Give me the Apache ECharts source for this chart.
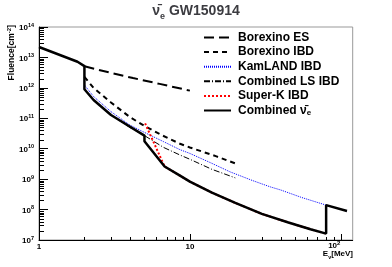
<!DOCTYPE html>
<html><head><meta charset="utf-8">
<script src="https://cdn.jsdelivr.net/npm/echarts@6/dist/echarts.min.js"></script>
<style>html,body{margin:0;padding:0;background:#fff}#c{width:392px;height:267px}</style>
</head><body><div id="c"></div>
<script>
const FONT = 'Liberation Sans';
const NU_BAR = 'ν\u0304';

// ---- data (E in MeV, fluence in cm^-2) ----
const borexinoES_E = [2, 3, 4.2, 6.3, 10];
const borexinoES_F = [5.1e12, 3.1e12, 2.1e12, 1.35e12, 8.1e11];

const borexinoIBD_E = [2, 2.3, 3, 4, 5, 6.5, 8.6, 10, 15, 20];
const borexinoIBD_F = [2.3e12, 1.0e12, 3.3e11, 1.1e11, 5.6e10, 2.8e10, 1.45e10, 1.1e10, 5.6e9, 3.3e9];

const kamland_E = [2, 2.3, 3, 4, 4.9, 6.7, 8.6, 10, 14, 18.4, 26, 34, 40, 55, 80, 110];
const kamland_F = [1.24e12, 5.2e11, 1.65e11, 6.0e10, 3.6e10, 1.7e10, 9.3e9, 7.0e9, 3.3e9, 1.75e9, 9.0e8, 5.6e8, 4.4e8, 2.5e8, 1.4e8, 9e7];

const combinedLS_E = [2, 2.3, 3, 4, 5, 6.7, 8.6, 10, 14, 20];
const combinedLS_F = [9e11, 4e11, 1.28e11, 5.0e10, 2.7e10, 1.1e10, 6.2e9, 4.5e9, 2.1e9, 1.1e9];

const superK_E = [5.05, 6.8, 8.6, 10, 14, 20, 30, 45, 63, 80];
const superK_F = [6.8e10, 2.6e9, 1.3e9, 8.3e8, 3.6e8, 1.65e8, 7.2e7, 3.75e7, 2.25e7, 1.62e7];

const combined_E = [1, 1.8, 2, 2, 2.3, 3, 5, 5, 6.8, 8.6, 10, 14, 20, 30, 45, 63, 80, 80, 110];
const combined_F = [2.2e13, 7.2e12, 5.2e12, 9e11, 4e11, 1.28e11, 2.7e10, 1.75e10, 2.6e9, 1.3e9, 8.3e8, 3.6e8, 1.65e8, 7.2e7, 3.75e7, 2.25e7, 1.62e7, 1.4e8, 9e7];

const seriesNames = ['Borexino ES', 'Borexino IBD', 'KamLAND IBD', 'Combined LS IBD', 'Super-K IBD', 'Combined ' + NU_BAR + 'e'];

// axis structure
const X_MIN = 1, X_MAX = 120;
const Y_MIN = 1e7, Y_MAX = 1e14;
const xDecades = [1, 10, 100];
const yDecades = [1e7, 1e8, 1e9, 1e10, 1e11, 1e12, 1e13];
const minorMantissas = [2, 3, 4, 5, 6, 7, 8, 9];

const zip = (a, b) => a.map((v, i) => [v, b[i]]);

const minorData = [];
xDecades.forEach(d => minorMantissas.forEach(m => { const v = m * d; if (v < X_MAX) minorData.push([v, Y_MIN, 0]); }));
yDecades.forEach(d => minorMantissas.forEach(m => minorData.push([X_MIN, m * d, 1])));

function lineSeries(name, E, F, color, width, type) {
  return {
    name, type: 'line', data: zip(E, F), symbol: 'none', showSymbol: false,
    lineStyle: { color, width, type }, itemStyle: { color },
    animation: false, silent: true, clip: true
  };
}

const chart = echarts.init(document.getElementById('c'), null, { renderer: 'canvas' });
chart.setOption({
  animation: false,
  textStyle: { fontFamily: FONT },
  title: {
    text: '{n|' + NU_BAR + '}{e|e}{t| GW150914}',
    left: 'center', top: 2, padding: 0,
    textStyle: {
      rich: {
        n: { fontFamily: FONT, fontWeight: 'bold', fontSize: 14, lineHeight: 16, verticalAlign: 'bottom' },
        e: { fontFamily: FONT, fontWeight: 'bold', fontSize: 9, lineHeight: 16, verticalAlign: 'bottom', padding: [0, 0, -3, 0] },
        t: { fontFamily: FONT, fontWeight: 'bold', fontSize: 14, lineHeight: 16, verticalAlign: 'bottom' }
      }
    }
  },
  legend: {
    data: seriesNames,
    orient: 'vertical', left: 203, top: 31.5, itemWidth: 27, itemHeight: 10, itemGap: 2.6,
    padding: 0,
    itemStyle: { color: 'rgba(0,0,0,0)', borderColor: 'rgba(0,0,0,0)', borderWidth: 0, opacity: 0 },
    formatter: name => name.indexOf('Combined ' + NU_BAR) === 0 ? '{t|Combined }{n|' + NU_BAR + '}{e|e}' : '{t|' + name + '}',
    textStyle: {
      padding: [0, 0, 0, 2],
      rich: {
        t: { fontFamily: FONT, fontWeight: 'bold', fontSize: 12, color: '#000' },
        n: { fontFamily: FONT, fontWeight: 'bold', fontSize: 12, color: '#000' },
        e: { fontFamily: FONT, fontWeight: 'bold', fontSize: 8, color: '#000', padding: [0, 0, -4, 0] }
      }
    }
  },
  grid: { left: 39, right: 39.3, top: 27, bottom: 27, show: true, borderColor: '#999', borderWidth: 1, backgroundColor: 'transparent' },
  xAxis: {
    type: 'log', logBase: 10, min: X_MIN, max: X_MAX, splitNumber: 2,
    axisLine: { show: true, lineStyle: { color: '#000', width: 1 } },
    axisTick: { show: true, inside: true, length: 6, lineStyle: { color: '#000' } },
    splitLine: { show: false },
    axisLabel: {
      margin: 0, color: '#000',
      formatter: v => {
        const e = Math.round(Math.log10(v));
        if (e === 0) return '{b|1}';
        if (e === 1) return '{b|10}';
        return '{c|10}{s|' + e + '}';
      },
      rich: {
        b: { fontFamily: FONT, fontWeight: 'bold', fontSize: 8, lineHeight: 10, color: '#000', padding: [4.5, 0, 0, 0] },
        c: { fontFamily: FONT, fontWeight: 'bold', fontSize: 8, lineHeight: 10, color: '#000', verticalAlign: 'bottom' },
        s: { fontFamily: FONT, fontWeight: 'bold', fontSize: 6, lineHeight: 6, color: '#000', verticalAlign: 'top', padding: [0, 13, 0, 0] }
      }
    }
  },
  yAxis: {
    type: 'log', logBase: 10, min: Y_MIN, max: Y_MAX, splitNumber: 7,
    axisLine: { show: true, lineStyle: { color: '#000', width: 1 } },
    axisTick: { show: true, inside: true, length: 9, lineStyle: { color: '#000' } },
    splitLine: { show: false },
    axisLabel: {
      margin: 5, color: '#000',
      formatter: v => '{b|10}{s|' + Math.round(Math.log10(v)) + '}',
      rich: {
        b: { fontFamily: FONT, fontWeight: 'bold', fontSize: 8, lineHeight: 10, color: '#000', verticalAlign: 'bottom' },
        s: { fontFamily: FONT, fontWeight: 'bold', fontSize: 5.5, lineHeight: 6, color: '#000', verticalAlign: 'top' }
      }
    }
  },
  graphic: [
    {
      type: 'text', x: 11, y: 25, rotation: Math.PI / 2, silent: true,
      style: {
        text: '{a|Fluence[cm}{s|-2}{a|]}', align: 'right', verticalAlign: 'middle',
        rich: {
          a: { fontFamily: FONT, fontWeight: 'bold', fontSize: 8.5, lineHeight: 10, fill: '#000', verticalAlign: 'bottom' },
          s: { fontFamily: FONT, fontWeight: 'bold', fontSize: 6, lineHeight: 6, fill: '#000', verticalAlign: 'top' }
        }
      }
    },
    {
      type: 'text', x: 353, y: 250, silent: true,
      style: {
        text: '{a|E}{s|ν}{a|[MeV]}', align: 'right', verticalAlign: 'top',
        rich: {
          a: { fontFamily: FONT, fontWeight: 'bold', fontSize: 8, lineHeight: 10, fill: '#000', verticalAlign: 'top' },
          s: { fontFamily: FONT, fontWeight: 'bold', fontSize: 5.5, lineHeight: 10, fill: '#000', verticalAlign: 'top', padding: [4, 0, 0, 0] }
        }
      }
    }
  ],
  series: [
    {
      type: 'custom', name: 'minorTicks', data: minorData, silent: true, animation: false, clip: false, z: 1,
      renderItem: (params, api) => {
        const p = api.coord([api.value(0), api.value(1)]);
        const horiz = api.value(2) === 1;
        const x = Math.round(p[0]) + 0.5, y = Math.round(p[1]) + 0.5;
        return {
          type: 'line',
          shape: horiz ? { x1: p[0], y1: y, x2: p[0] + 5, y2: y } : { x1: x, y1: p[1], x2: x, y2: p[1] - 3 },
          style: { stroke: '#000', lineWidth: 1 }
        };
      }
    },
    lineSeries(seriesNames[0], borexinoES_E, borexinoES_F, '#000', 2, [10, 5]),
    lineSeries(seriesNames[1], borexinoIBD_E, borexinoIBD_F, '#000', 2, [5, 4]),
    lineSeries(seriesNames[2], kamland_E, kamland_F, '#0000ff', 1, [1, 1]),
    lineSeries(seriesNames[3], combinedLS_E, combinedLS_F, '#000', 1, [6, 2, 1, 2]),
    lineSeries(seriesNames[4], superK_E, superK_F, '#ff0000', 2, [2, 2]),
    lineSeries(seriesNames[5], combined_E, combined_F, '#000', 2.5, 'solid')
  ]
});
</script>
</body></html>
